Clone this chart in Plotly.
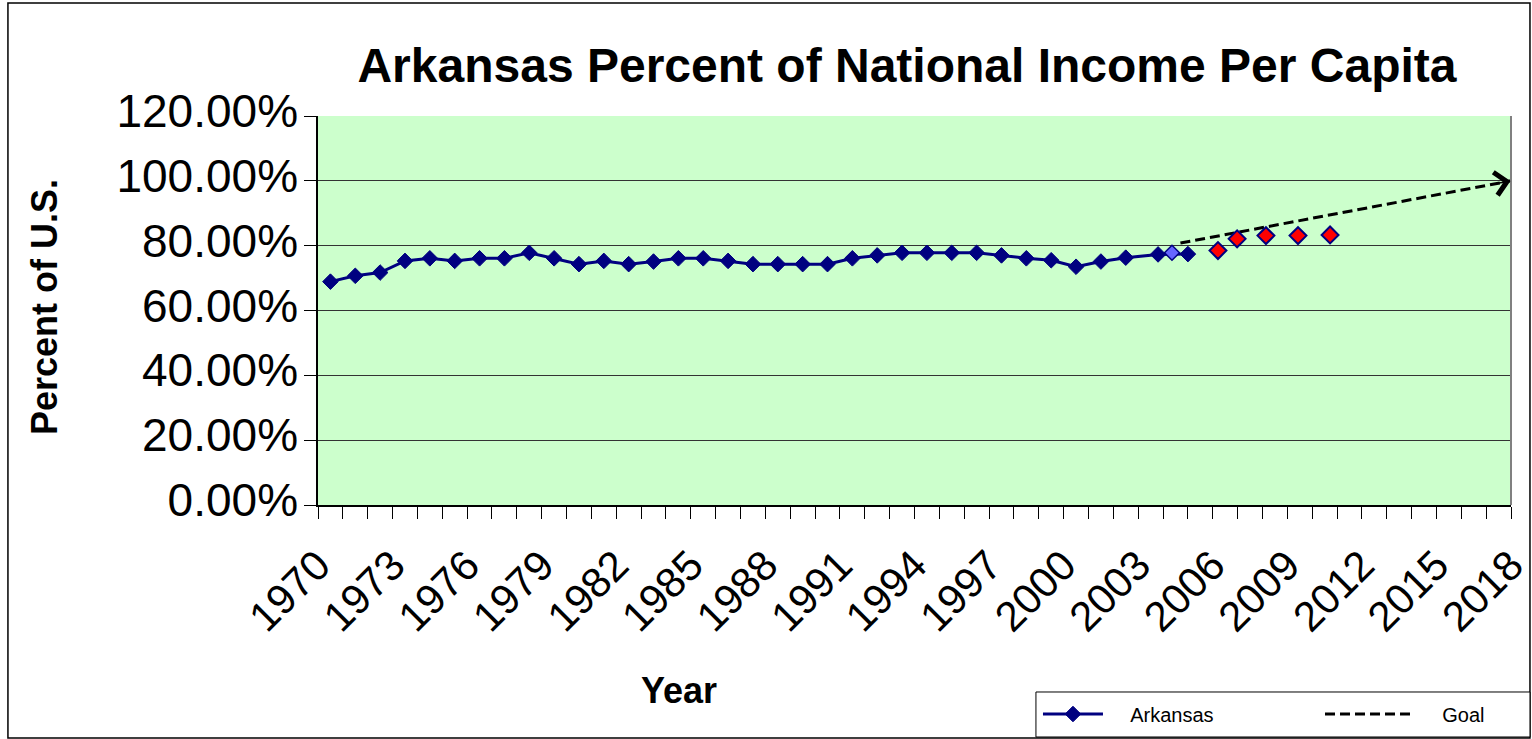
import plotly.graph_objects as go

# ---------------- data ----------------
ark_years = [1970, 1971, 1972, 1973, 1974, 1975, 1976, 1977, 1978, 1979,
             1980, 1981, 1982, 1983, 1984, 1985, 1986, 1987, 1988, 1989,
             1990, 1991, 1992, 1993, 1994, 1995, 1996, 1997, 1998, 1999,
             2000, 2001, 2002, 2003.3, 2004.5]
ark_values = [0.689, 0.707, 0.717, 0.753, 0.761, 0.753, 0.761, 0.761, 0.778, 0.761,
              0.743, 0.753, 0.743, 0.751, 0.761, 0.761, 0.753, 0.743, 0.743, 0.743,
              0.743, 0.761, 0.770, 0.778, 0.778, 0.778, 0.778, 0.770, 0.761, 0.755,
              0.735, 0.751, 0.763, 0.773, 0.774]

hl_years = [2003.86]
hl_values = [0.778]

proj_years = [2005.71, 2006.48, 2007.64, 2008.93, 2010.22]
proj_values = [0.785, 0.821, 0.831, 0.831, 0.833]

goal_years = [2004.2, 2017.5]
goal_values = [0.808, 1.0]

tick_positions = [1969.5, 1972.5, 1975.5, 1978.5, 1981.5, 1984.5, 1987.5, 1990.5,
                  1993.5, 1996.5, 1999.5, 2002.5, 2005.5, 2008.5, 2011.5, 2014.5, 2017.5]
tick_labels = ["1970", "1973", "1976", "1979", "1982", "1985", "1988", "1991",
               "1994", "1997", "2000", "2003", "2006", "2009", "2012", "2015", "2018"]

FONT = "Liberation Sans, Arial, sans-serif"
NAVY = "#000080"
GAP = "\u00a0" * 4

fig = go.Figure()

fig.add_trace(go.Scatter(
    x=goal_years, y=goal_values, name=GAP + "Goal", mode="lines",
    line=dict(color="black", width=3, dash="10px,5px"),
    legend="legend2", hoverinfo="skip"))

fig.add_trace(go.Scatter(
    x=ark_years, y=ark_values, name=GAP + "Arkansas", mode="lines+markers",
    line=dict(color=NAVY, width=3),
    marker=dict(symbol="diamond", size=12, color=NAVY, line=dict(color=NAVY, width=1)),
    legend="legend"))

fig.add_trace(go.Scatter(
    x=hl_years, y=hl_values, mode="markers", showlegend=False,
    marker=dict(symbol="diamond", size=11.5, color="#6666FF", line=dict(color=NAVY, width=1.5))))

fig.add_trace(go.Scatter(
    x=proj_years, y=proj_values, mode="markers", showlegend=False,
    marker=dict(symbol="diamond", size=13, color="#FF0000", line=dict(color=NAVY, width=2))))

# arrow head at the end of the goal line
slope = (goal_values[1] - goal_values[0]) / (goal_years[1] - goal_years[0])
fig.add_annotation(
    x=goal_years[-1] - 0.02, y=goal_values[-1] - 0.02 * slope, xref="x", yref="y",
    ax=goal_years[-1] - 0.6, ay=goal_values[-1] - 0.6 * slope,
    axref="x", ayref="y", showarrow=True, arrowhead=4, arrowsize=3,
    arrowwidth=1.5, arrowcolor="black", text=" ")

# axis titles
fig.add_annotation(text="<b>Percent of U.S.</b>", xref="paper", yref="paper",
                   x=-0.2288, y=0.509, xanchor="center", yanchor="middle",
                   textangle=-90, showarrow=False,
                   font=dict(size=36, family=FONT, color="black"))
fig.add_annotation(text="<b>Year</b>", xref="paper", yref="paper",
                   x=0.3026, y=-0.4756, xanchor="center", yanchor="middle",
                   showarrow=False,
                   font=dict(size=36, family=FONT, color="black"))

# right border of plot area
fig.add_shape(type="line", xref="x domain", yref="y domain", x0=1, x1=1, y0=0, y1=1,
              line=dict(color="#808080", width=2))
# outer chart border
fig.add_shape(type="rect", xref="paper", yref="paper",
              x0=-0.2599, x1=1.0159, y0=-0.599, y1=1.2905,
              line=dict(color="black", width=1.5), layer="below")
# legend box
fig.add_shape(type="rect", xref="paper", yref="paper",
              x0=0.6018, x1=1.0159, y0=-0.5964, y1=-0.4807,
              line=dict(color="black", width=1), fillcolor="white", layer="below")

fig.update_layout(
    width=1532, height=739, autosize=False,
    margin=dict(l=318, r=21, t=116, b=234, autoexpand=False),
    paper_bgcolor="white", plot_bgcolor="#CCFFCC",
    font=dict(family=FONT, color="black"),
    title=dict(text="<b>Arkansas Percent of National Income Per Capita</b>",
               x=0.4937, xref="paper", xanchor="center",
               y=1 - 65 / 739, yref="container", yanchor="middle",
               font=dict(size=48, family=FONT, color="black")),
    xaxis=dict(range=[1969.5, 2017.5], tickmode="array", tickvals=tick_positions,
               ticktext=tick_labels, tickangle=-45, ticks="outside", ticklen=12,
               tickwidth=1, tickcolor="black", ticklabelshift=0, ticklabelstandoff=5,
               ticklabeloverflow="allow",
               tickfont=dict(size=42, family=FONT, color="black"), automargin=False,
               minor=dict(tickmode="linear", tick0=1969.5, dtick=1, ticks="outside",
                          ticklen=12, tickwidth=1, tickcolor="black", showgrid=False),
               showgrid=False, zeroline=False, showline=True, linecolor="black", linewidth=1.5),
    yaxis=dict(range=[0, 1.2], tickmode="linear", tick0=0, dtick=0.2, tickformat=".2%",
               ticks="outside", ticklen=12, tickcolor="black", ticklabelstandoff=-3,
               ticklabelshift=-5,
               tickfont=dict(size=46, family=FONT, color="black"), automargin=False,
               showgrid=True, gridcolor="#333333", gridwidth=1,
               zeroline=False, showline=True, linecolor="black", linewidth=1.5),
    legend=dict(orientation="h", x=0.6035, xanchor="left", y=-0.5373, yanchor="middle",
                borderwidth=0, bgcolor="rgba(0,0,0,0)",
                font=dict(size=20, family=FONT, color="black"), itemwidth=60),
    legend2=dict(orientation="h", x=0.8399, xanchor="left", y=-0.5373, yanchor="middle",
                 borderwidth=0, bgcolor="rgba(0,0,0,0)",
                 font=dict(size=20, family=FONT, color="black"), itemwidth=90),
    showlegend=True,
)

fig.write_html("out.html")
